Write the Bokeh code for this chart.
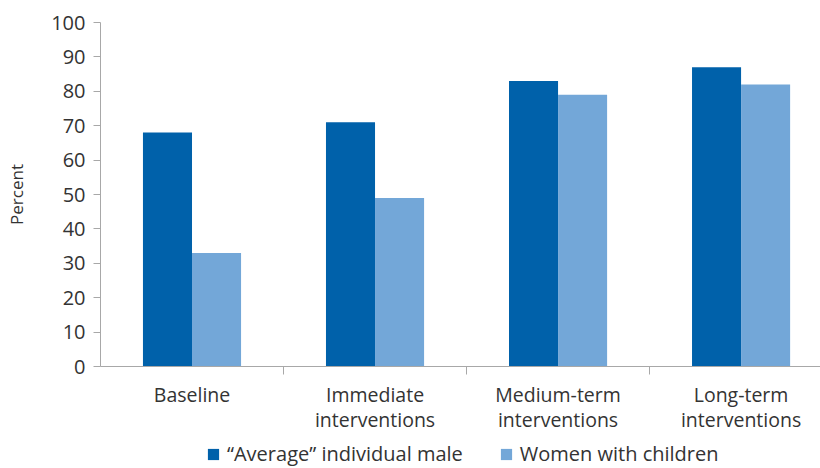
from bokeh.plotting import figure
from bokeh.layouts import column
from bokeh.models import ColumnDataSource, FixedTicker, Range1d, Legend, LegendItem
from bokeh.embed import file_html
from bokeh.resources import INLINE

categories = ["Baseline", "Immediate\ninterventions", "Medium-term\ninterventions", "Long-term\ninterventions"]
male = [68, 71, 83, 87]
women = [33, 49, 79, 82]
series_names = ["\u201cAverage\u201d individual male", "Women with children"]
y_ticks = [0, 10, 20, 30, 40, 50, 60, 70, 80, 90, 100]

DARK = "#0061aa"
LIGHT = "#73a7d8"
FONT = "Open Sans"
bw = 0.268

centers = [i + 0.5 for i in range(len(categories))]
src_m = ColumnDataSource(dict(x=[c - bw / 2 for c in centers], top=male))
src_w = ColumnDataSource(dict(x=[c + bw / 2 for c in centers], top=women))

p = figure(width=820, height=436, output_backend="svg", toolbar_location=None,
           x_range=Range1d(0, 3.934), y_range=Range1d(0, 100))
p.min_border_left = 100
p.min_border_right = 0
p.min_border_top = 22
p.min_border_bottom = 70
p.outline_line_color = None
p.xgrid.visible = False
p.ygrid.visible = False

r1 = p.vbar(x="x", top="top", width=bw, source=src_m, fill_color=DARK, line_color=None)
r2 = p.vbar(x="x", top="top", width=bw, source=src_w, fill_color=LIGHT, line_color=None)

AX = "#a8a8a8"
p.yaxis.ticker = FixedTicker(ticks=y_ticks)
p.yaxis.axis_line_color = AX
p.yaxis.major_tick_line_color = AX
p.yaxis.major_tick_out = 7
p.yaxis.major_tick_in = 0
p.yaxis.minor_tick_line_color = None
p.yaxis.major_label_text_font = FONT
p.yaxis.major_label_text_font_size = "20px"
p.yaxis.major_label_text_color = "#333333"
p.yaxis.major_label_standoff = 8
p.yaxis.axis_label = "Percent"
p.yaxis.axis_label_text_font = FONT
p.yaxis.axis_label_text_font_size = "17px"
p.yaxis.axis_label_text_font_style = "normal"
p.yaxis.axis_label_text_color = "#333333"
p.yaxis.axis_label_standoff = 20

p.xaxis.ticker = FixedTicker(ticks=centers, minor_ticks=[1, 2, 3])
p.xaxis.major_label_overrides = {c: lab for c, lab in zip(centers, categories)}
p.xaxis.axis_line_color = AX
p.xaxis.major_tick_line_color = None
p.xaxis.minor_tick_line_color = AX
p.xaxis.minor_tick_out = 8
p.xaxis.minor_tick_in = 0
p.xaxis.major_label_text_font = FONT
p.xaxis.major_label_text_font_size = "19.5px"
p.xaxis.major_label_text_line_height = 0.95
p.xaxis.major_label_text_color = "#333333"
p.xaxis.major_label_standoff = 6

# legend strip below the chart
lg = figure(width=820, height=32, output_backend="svg", toolbar_location=None,
            x_range=Range1d(0, 1), y_range=Range1d(1000, 1001))
lg.min_border = 0
lg.min_border_left = 0
lg.min_border_right = 0
lg.min_border_top = 0
lg.min_border_bottom = 0
lg.outline_line_color = None
lg.axis.visible = False
lg.grid.visible = False
lr1 = lg.vbar(x="x", top="top", width=bw, source=src_m, fill_color=DARK, line_color=None)
lr2 = lg.vbar(x="x", top="top", width=bw, source=src_w, fill_color=LIGHT, line_color=None)

legend = Legend(items=[LegendItem(label=series_names[0], renderers=[lr1]),
                       LegendItem(label=series_names[1], renderers=[lr2])],
                orientation="horizontal", location=(106, 1))
legend.label_text_font = FONT
legend.label_text_font_size = "20px"
legend.label_text_color = "#333333"
legend.glyph_width = 14
legend.glyph_height = 14
legend.label_standoff = 7
legend.spacing = 36
legend.border_line_color = None
legend.background_fill_alpha = 0
legend.padding = 0
legend.margin = 0
lg.add_layout(legend)

layout = column(p, lg, spacing=0)
open("out.html", "w").write(file_html(layout, INLINE))
